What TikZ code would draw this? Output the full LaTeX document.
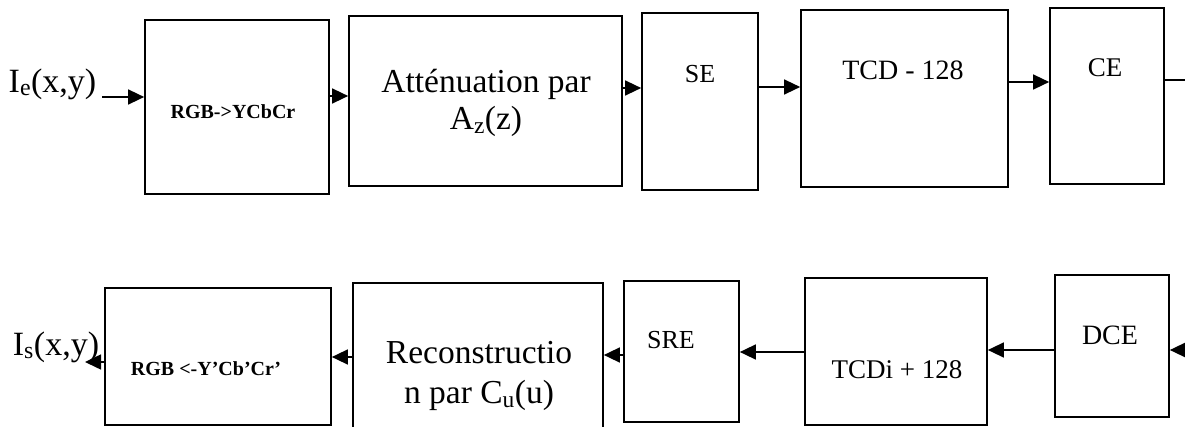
\documentclass[tikz,border=0pt]{standalone}
\usepackage{fontspec}
\setmainfont{Liberation Serif}
\usetikzlibrary{arrows.meta}
\tikzset{
  blk/.style={draw, line width=1.7pt, inner sep=0pt, rectangle},
  lbl/.style={inner sep=0pt, anchor=center},
  arr/.style={line width=1.5pt, -{Triangle[length=16pt,width=15pt]}},
  ln/.style={line width=1.5pt},
  fbig/.style={font=\fontsize{33.5}{37}\selectfont},
  fmid/.style={font=\fontsize{27}{32}\selectfont},
  fbold/.style={font=\fontsize{20}{24}\selectfont\bfseries},
  fio/.style={font=\fontsize{34}{38}\selectfont},
}
\begin{document}
\begin{tikzpicture}[x=1pt,y=-1pt]
\useasboundingbox (0,0) rectangle (1185,427);
\clip (0,0) rectangle (1185,427);
% top row boxes
\node[blk, minimum width=184pt, minimum height=174pt] (rgb) at (237,107) {};
\node[blk, minimum width=273pt, minimum height=170pt] (att) at (485.5,101) {};
\node[blk, minimum width=116pt, minimum height=177pt] (se) at (700,101.5) {};
\node[blk, minimum width=207pt, minimum height=177pt] (tcd) at (904.5,98.5) {};
\node[blk, minimum width=114pt, minimum height=176pt] (ce) at (1107,96) {};
% bottom row boxes
\node[blk, minimum width=114pt, minimum height=142pt] (dce) at (1112,346) {};
\node[blk, minimum width=182pt, minimum height=147pt] (tcdi) at (896,351.5) {};
\node[blk, minimum width=115pt, minimum height=141pt] (sre) at (681.5,351.5) {};
\node[blk, minimum width=250pt, minimum height=150pt] (rec) at (478,358) {};
\node[blk, minimum width=226pt, minimum height=137pt] (rgbb) at (218,356.5) {};
% labels
\node[lbl, fio] (ie) at (52.5,84) {I\textsubscript{e}(x,y)};
\node[lbl, fbold] (trgb) at (233,112) {RGB->YCbCr};
\node[lbl, fbig, align=center] (tatt) at (486,103) {Atténuation par\\A\textsubscript{z}(z)};
\node[lbl, font=\fontsize{26}{30}\selectfont] (tse) at (700,74) {SE};
\node[lbl, font=\fontsize{28}{32}\selectfont] (ttcd) at (903,70) {TCD - 128};
\node[lbl, fmid] (tce) at (1105,67.5) {CE};
\node[lbl, font=\fontsize{28}{32}\selectfont] (tdce) at (1110,335) {DCE};
\node[lbl, fmid] (ttcdi) at (897,370) {TCDi + 128};
\node[lbl, font=\fontsize{26}{30}\selectfont] (tsre) at (671,340) {SRE};
\node[lbl, font=\fontsize{33.5}{40}\selectfont, align=center] (trec) at (479,376) {Reconstructio\\n par C\textsubscript{u}(u)};
\node[lbl, fbold] (trgbb) at (206,369) {RGB <-Y’Cb’Cr’};
\node[lbl, fio] (is) at (56,347) {I\textsubscript{s}(x,y)};
% connectors, top row
\coordinate (inA) at (102,97);
\coordinate (outA) at (1185,80);
\draw[arr] (inA) -- (rgb.west |- inA);
\draw[arr] (rgb.east |- 0,96) -- (att.west |- 0,96);
\draw[arr] (att.east |- 0,88) -- (se.west |- 0,88);
\draw[arr] (se.east |- 0,87) -- (tcd.west |- 0,87);
\draw[arr] (tcd.east |- 0,82) -- (ce.west |- 0,82);
\draw[ln] (ce.east |- outA) -- (outA);
% connectors, bottom row
\coordinate (inB) at (1187,350);
\coordinate (outB) at (85,362);
\draw[arr] (inB) -- (dce.east |- inB);
\draw[arr] (dce.west |- 0,350) -- (tcdi.east |- 0,350);
\draw[arr] (tcdi.west |- 0,352) -- (sre.east |- 0,352);
\draw[arr] (sre.west |- 0,355) -- (rec.east |- 0,355);
\draw[arr] (rec.west |- 0,357) -- (rgbb.east |- 0,357);
\draw[arr] (rgbb.west |- outB) -- (outB);
\end{tikzpicture}
\end{document}
